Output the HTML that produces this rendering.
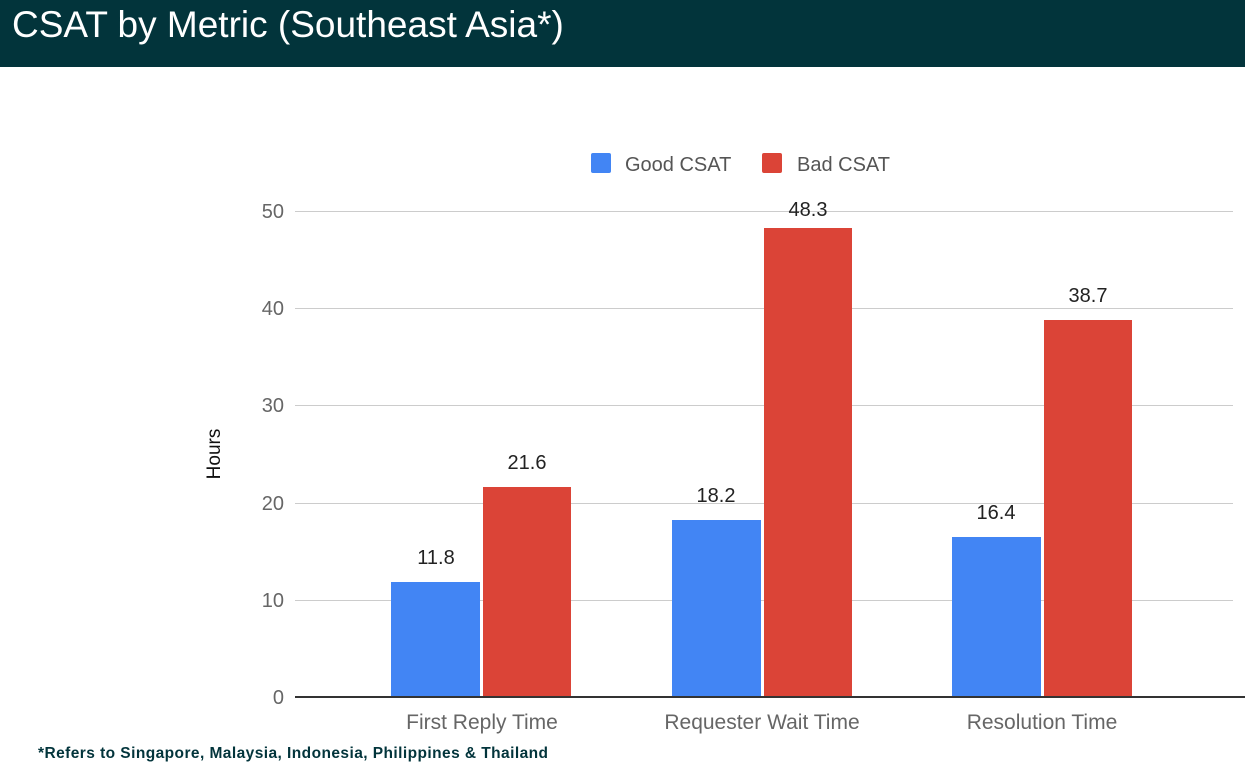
<!DOCTYPE html>
<html><head><style>
body{margin:0;width:1245px;height:775px;background:#fff;overflow:hidden;font-family:"Liberation Sans",sans-serif}
</style></head><body>
<svg width="1245" height="775" xmlns="http://www.w3.org/2000/svg" font-family="Liberation Sans, sans-serif">
<rect x="0" y="0" width="1245" height="67" fill="#02343b"/>
<text x="12" y="37" font-size="37" fill="#fff">CSAT by Metric (Southeast Asia*)</text>
<g stroke="#ccc" stroke-width="1">
<line x1="295" x2="1233" y1="211.5" y2="211.5"/>
<line x1="295" x2="1233" y1="308.5" y2="308.5"/>
<line x1="295" x2="1233" y1="405.5" y2="405.5"/>
<line x1="295" x2="1233" y1="503.5" y2="503.5"/>
<line x1="295" x2="1233" y1="600.5" y2="600.5"/>
</g>
<g font-size="20" fill="#666" text-anchor="end">
<text x="284" y="218">50</text>
<text x="284" y="315">40</text>
<text x="284" y="412">30</text>
<text x="284" y="510">20</text>
<text x="284" y="607">10</text>
<text x="284" y="704">0</text>
</g>
<text transform="translate(220,454) rotate(-90)" font-size="19" fill="#111" text-anchor="middle">Hours</text>
<rect x="591" y="153" width="20" height="20" rx="2" fill="#4285f4"/>
<text x="625" y="171" font-size="20" fill="#555">Good CSAT</text>
<rect x="762" y="153" width="20" height="20" rx="2" fill="#db4437"/>
<text x="797" y="171" font-size="20" fill="#555">Bad CSAT</text>
<g fill="#4285f4">
<rect x="391" y="582" width="89" height="115"/>
<rect x="672" y="520" width="89" height="177"/>
<rect x="952" y="537" width="89" height="160"/>
</g>
<g fill="#db4437">
<rect x="483" y="487" width="88" height="210"/>
<rect x="764" y="228" width="88" height="469"/>
<rect x="1044" y="320" width="88" height="377"/>
</g>
<g font-size="20" fill="#222" text-anchor="middle">
<text x="436" y="564">11.8</text>
<text x="527" y="469">21.6</text>
<text x="716" y="502">18.2</text>
<text x="808" y="216">48.3</text>
<text x="996" y="519">16.4</text>
<text x="1088" y="302">38.7</text>
</g>
<line x1="295" x2="1245" y1="697" y2="697" stroke="#333" stroke-width="2"/>
<g font-size="21" fill="#666" text-anchor="middle">
<text x="482" y="729">First Reply Time</text>
<text x="762" y="729">Requester Wait Time</text>
<text x="1042" y="729">Resolution Time</text>
</g>
<text x="38" y="758" font-size="15.5" font-weight="bold" fill="#02343b" textLength="510">*Refers to Singapore, Malaysia, Indonesia, Philippines &amp; Thailand</text>
</svg>
</body></html>
